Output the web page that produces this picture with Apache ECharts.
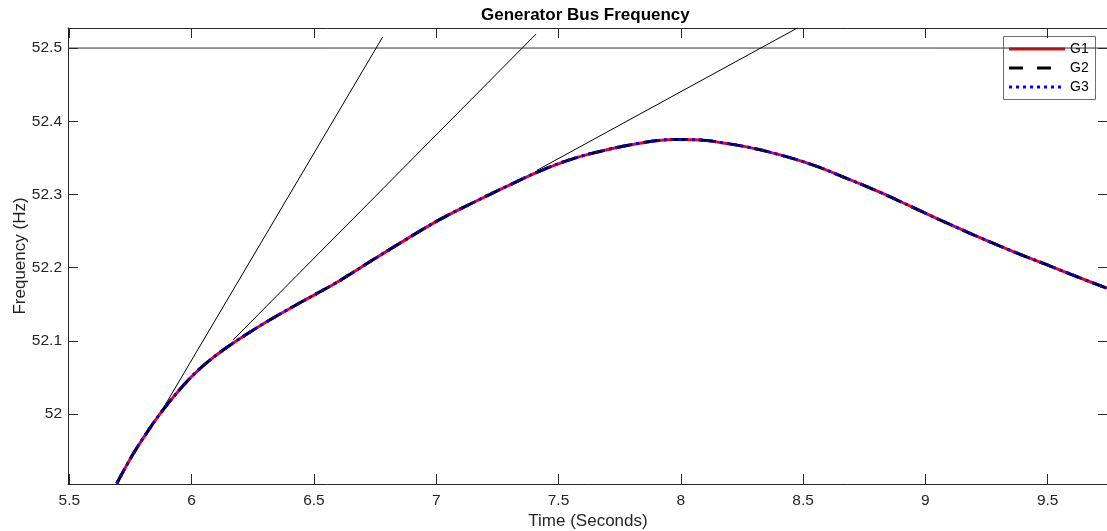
<!DOCTYPE html>
<html>
<head>
<meta charset="utf-8">
<script src="https://cdn.jsdelivr.net/npm/echarts@6/dist/echarts.min.js"></script>
<style>
html,body{margin:0;padding:0;background:#fff;}
#chart{width:1107px;height:531px;}
</style>
</head>
<body>
<div id="chart"></div>
<script>
// ---- data ----
var time = [5.694, 5.762, 5.830, 5.884, 5.966, 6.034, 6.103, 6.170, 6.239, 6.307, 6.443, 6.579, 6.648, 6.743, 6.879, 7.016, 7.152, 7.288, 7.424, 7.561, 7.697, 7.833, 7.970, 8.079, 8.133, 8.269, 8.406, 8.542, 8.678, 8.814, 8.951, 9.087, 9.223, 9.359, 9.496, 9.632, 9.741];
var g1 = [51.905, 51.946, 51.981, 52.006, 52.039, 52.062, 52.081, 52.097, 52.112, 52.126, 52.152, 52.177, 52.191, 52.211, 52.239, 52.266, 52.289, 52.311, 52.332, 52.349, 52.361, 52.370, 52.375, 52.3745, 52.3725, 52.365, 52.354, 52.340, 52.322, 52.303, 52.282, 52.261, 52.241, 52.222, 52.204, 52.186, 52.172];
var g2 = g1.slice();
var g3 = g1.slice();
var seriesNames = ['G1', 'G2', 'G3'];
var limitValue = 52.5;
var tangent1 = [[5.884, 52.008], [6.781, 52.515]];
var tangent2 = [[6.169, 52.101], [7.408, 52.519]];
var tangent3 = [[7.412, 52.333], [8.480, 52.528]];
var xTicks = [5.5, 6, 6.5, 7, 7.5, 8, 8.5, 9, 9.5];
var yTicks = [52, 52.1, 52.2, 52.3, 52.4, 52.5];
var xMin = 5.4947, xMax = 9.7465;
var yMin = 51.9044, yMax = 52.5274;

var FONT = 'Liberation Sans, Arial, sans-serif';
var AX = '#262626';
var styles = {
  G1: { color: '#ff0000', width: 3, type: 'solid' },
  G2: { color: '#000000', width: 3, type: [14, 14] },
  G3: { color: '#0000ff', width: 3, type: [3, 4] }
};

function pairs(xs, ys) { return xs.map(function (x, i) { return [x, ys[i]]; }); }

function xAxisCfg(pos, showLabel) {
  return {
    type: 'value', position: pos, min: xMin, max: xMax,
    axisLine: { show: true, onZero: false, lineStyle: { color: AX, width: 1 } },
    axisTick: { show: true, inside: true, length: 10, customValues: xTicks, lineStyle: { color: AX, width: 1 } },
    axisLabel: { show: showLabel, customValues: xTicks, color: AX, fontSize: 15.5, fontFamily: FONT, margin: 9 },
    splitLine: { show: false }
  };
}
function yAxisCfg(pos, showLabel) {
  return {
    type: 'value', position: pos, min: yMin, max: yMax,
    axisLine: { show: true, onZero: false, lineStyle: { color: AX, width: 1 } },
    axisTick: { show: true, inside: true, length: 10, customValues: yTicks, lineStyle: { color: AX, width: 1 } },
    axisLabel: { show: showLabel, customValues: yTicks, color: AX, fontSize: 15.5, fontFamily: FONT, margin: 6 },
    splitLine: { show: false }
  };
}

var xb = xAxisCfg('bottom', true);
xb.name = 'Time (Seconds)';
xb.nameLocation = 'middle';
xb.nameGap = 29;
xb.nameMoveOverlap = false;
xb.nameTextStyle = { color: AX, fontSize: 17, fontFamily: FONT };
var xt = xAxisCfg('top', false);
var yl = yAxisCfg('left', true);
yl.name = 'Frequency (Hz)';
yl.nameLocation = 'middle';
yl.nameGap = 39;
yl.nameMoveOverlap = false;
yl.nameTextStyle = { color: AX, fontSize: 17, fontFamily: FONT };
var yr = yAxisCfg('right', false);

// legend drawn as a bordered box of line samples + names
var legendLeft = 1003, legendTop = 36, rowH = 19;
var legendChildren = [{
  type: 'rect', shape: { x: legendLeft + 0.5, y: legendTop + 0.5, width: 92, height: 63 },
  style: { fill: null, stroke: '#6e6e6e', lineWidth: 1 }
}];
seriesNames.forEach(function (n, i) {
  var cy = legendTop + 13 + i * rowH;
  var st = styles[n];
  legendChildren.push({
    type: 'line', shape: { x1: legendLeft + 6, y1: cy, x2: legendLeft + 62, y2: cy },
    style: { stroke: st.color, lineWidth: st.width, lineDash: st.type === 'solid' ? null : st.type }
  });
  legendChildren.push({
    type: 'text', x: legendLeft + 67, y: cy,
    style: { text: n, fill: '#000', font: '14px ' + FONT, textVerticalAlign: 'middle', verticalAlign: 'middle' }
  });
});

var chart = echarts.init(document.getElementById('chart'), null, { renderer: 'canvas' });
var thin = { color: '#000', width: 1 };
var mainSeries = seriesNames.map(function (n, i) {
  var d = [g1, g2, g3][i];
  return { name: n, type: 'line', symbol: 'none', smooth: 0.4, silent: true,
    data: pairs(time, d), itemStyle: { color: styles[n].color }, lineStyle: styles[n], z: 3 + i };
});
chart.setOption({
  animation: false,
  backgroundColor: '#fff',
  title: {
    text: 'Generator Bus Frequency', left: 481, top: 7, padding: 0,
    textStyle: { color: '#000', fontSize: 17, fontWeight: 'bold', fontFamily: FONT }
  },
  grid: { left: 68, right: -1, top: 28, bottom: 47, containLabel: false, outerBoundsMode: 'none' },
  xAxis: [xb, xt],
  yAxis: [yl, yr],
  graphic: [{ type: 'group', z: 100, children: legendChildren }],
  series: [
    { name: 'limit', type: 'line', symbol: 'none', silent: true,
      data: [[xMin, limitValue], [xMax, limitValue]], lineStyle: { color: '#333', width: 1 }, z: 1 },
    { name: 't1', type: 'line', symbol: 'none', silent: true, data: tangent1, lineStyle: thin, z: 1 },
    { name: 't2', type: 'line', symbol: 'none', silent: true, data: tangent2, lineStyle: thin, z: 1 },
    { name: 't3', type: 'line', symbol: 'none', silent: true, data: tangent3, lineStyle: thin, z: 1 }
  ].concat(mainSeries)
});
</script>
</body>
</html>
